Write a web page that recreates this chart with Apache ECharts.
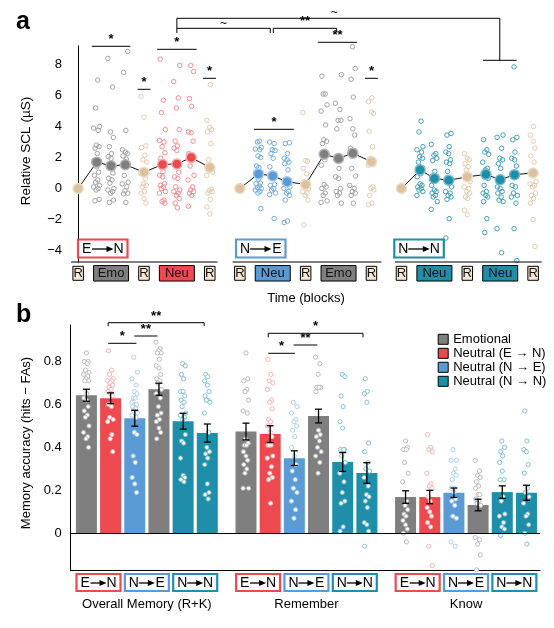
<!DOCTYPE html>
<html><head><meta charset="utf-8">
<script src="https://cdn.jsdelivr.net/npm/echarts@6/dist/echarts.min.js"></script>
<style>html,body{margin:0;padding:0;background:#fff}#c{width:554px;height:628px}</style>
</head><body><div id="c"></div>
<script>
// ===== Panel a : relative SCL per block (columns: R, block1 x3, R, block2 x3, R) =====
const sclTicks = [-4, -2, 0, 2, 4, 6, 8];
const sclEtoN = [
  [],
  [7.0, 5.2, 4.0, 3.9, 3.75, 2.8, 2.7, 2.6, 2.25, 1.8, 1.4, 1.05, 0.85, 0.55, 0.4, 0.2, 0.1, 0.0, -0.1, -0.7, -0.8],
  [8.4, 6.55, 3.65, 3.3, 2.7, 2.25, 2.05, 1.95, 1.0, 0.65, 0.55, 0.35, 0.0, -0.1, -0.2, -0.3, -0.75, -0.9],
  [8.85, 7.5, 3.75, 2.5, 2.35, 2.25, 2.1, 1.9, 0.85, 0.4, 0.3, 0.1, -0.15, -0.3, -0.35, -0.9],
  [5.95, 4.6, 2.75, 2.65, 2.15, 1.85, 1.7, 0.95, 0.65, 0.3, 0.2, 0.1, -0.2, -0.3, -0.65, -0.95],
  [8.35, 5.7, 4.9, 3.8, 3.1, 3.0, 2.7, 2.3, 1.95, 1.1, 0.85, 0.75, 0.3, 0.2, 0.1, 0.0, -0.2, -0.3, -0.75, -0.85, -0.95],
  [7.95, 6.9, 5.85, 5.2, 3.8, 3.05, 2.75, 2.6, 2.45, 1.05, 0.75, 0.65, 0.1, -0.1, -0.2, -0.3, -0.45, -0.65, -0.95, -1.25],
  [7.95, 7.55, 5.8, 5.3, 3.65, 3.6, 3.05, 2.25, 2.05, 1.45, 0.85, 0.55, 0.1, -0.1, -0.2, -0.3, -0.45, -1.15],
  [6.7, 4.4, 3.95, 3.8, 3.65, 2.9, 1.85, 1.05, 0.85, -0.05, -0.15, -0.2, -0.3, -0.7, -1.2, -1.65]
];
const meanEtoN = [0, 1.7, 1.46, 1.53, 1.05, 1.55, 1.58, 2.0, 1.35];

const sclNtoE = [
  [],
  [3.05, 3.0, 2.65, 2.55, 2.5, 2.1, 2.0, 1.45, 1.35, 1.0, 0.6, 0.35, 0.3, 0.15, 0.05, 0.0, -0.1, -0.2, -0.3, -1.3],
  [3.0, 2.9, 2.5, 2.45, 2.25, 1.95, 1.4, 1.0, 0.25, 0.2, 0.0, -0.1, -0.3, -0.4, -1.95],
  [2.95, 2.9, 2.25, 1.95, 1.85, 1.7, 1.6, 1.2, 0.35, 0.1, 0.0, -0.2, -0.3, -0.45, -0.75, -2.1, -2.2],
  [4.9, 1.8, 1.75, 1.3, 0.95, 0.4, 0.0, -0.2, -0.3, -0.45, -0.75, -2.35],
  [7.25, 6.1, 6.1, 5.4, 5.0, 4.1, 3.15, 3.05, 2.9, 1.85, 1.5, 0.25, 0.1, 0.0, -0.3, -0.45, -0.8, -0.9],
  [7.35, 5.5, 5.1, 4.4, 4.4, 3.85, 1.3, 0.75, 0.65, 0.0, -0.2, -0.3, -0.45, -0.95],
  [9.15, 7.75, 7.05, 5.9, 4.5, 3.85, 3.45, 2.6, 2.45, 1.3, 0.8, 0.2, 0.0, -0.2, -0.3, -0.45, -0.95],
  [5.85, 5.6, 4.95, 4.85, 3.7, 2.7, 1.95, 1.75, 1.5, 0.1, 0.0, -0.1, -0.45, -0.95, -1.05]
];
const meanNtoE = [0, 0.94, 0.81, 0.43, 0.26, 2.21, 1.94, 2.28, 1.72];

const sclNtoN = [
  [],
  [4.35, 3.65, 2.7, 2.5, 2.35, 2.05, 1.95, 1.7, 0.95, 0.75, 0.3, 0.2, 0.1, 0.0, -0.1, -0.2, -0.45],
  [2.85, 2.25, 2.15, 1.95, 1.8, 1.1, 0.2, -0.1, -0.2, -0.3, -0.45, -0.55, -0.85, -1.35],
  [3.55, 3.45, 2.7, 2.35, 2.25, 1.85, 1.7, 1.6, 1.1, 0.1, -0.2, -0.3, -0.45, -0.55, -0.7, -1.95, -3.2],
  [2.25, 1.95, 1.85, 1.6, 1.4, 1.2, 0.45, 0.1, 0.0, -0.2, -0.3, -0.55, -0.65, -1.4, -1.7],
  [3.15, 2.5, 2.35, 2.2, 1.7, 1.3, 1.2, 0.65, 0.2, -0.2, -0.3, -0.45, -0.55, -0.85, -1.95, -2.85],
  [3.45, 3.3, 2.6, 1.95, 1.85, 1.6, 1.3, 0.1, 0.0, -0.2, -0.3, -0.55, -0.75, -0.85, -2.6, -4.15],
  [7.85, 3.3, 3.15, 2.35, 1.95, 1.85, 1.45, 0.2, 0.1, -0.3, -0.45, -0.55, -0.95, -2.6, -4.65],
  [4.0, 3.45, 3.05, 2.6, 2.1, 1.7, 1.1, 0.45, 0.3, 0.2, 0.1, -0.3, -0.45, -0.65, -0.95, -2.0, -3.75]
];
const meanNtoN = [0, 1.2, 0.65, 0.53, 0.75, 0.91, 0.56, 0.89, 1.0];

// ===== Panel b : memory accuracy (bars: Emo, Neu E->N, Neu N->E, Emo, Neu N->N, Neu N->N) =====
const accTicks = [0, 0.2, 0.4, 0.6, 0.8];
const legendNames = ['Emotional', 'Neutral (E \u2192 N)', 'Neutral (N \u2192 E)', 'Neutral (N \u2192 N)'];
const groupNames = ['Overall Memory (R+K)', 'Remember', 'Know'];
const barOverall = [0.643, 0.629, 0.536, 0.671, 0.522, 0.467];
const semOverall = [0.028, 0.025, 0.037, 0.028, 0.037, 0.042];
const barRemember = [0.474, 0.462, 0.350, 0.546, 0.332, 0.281];
const semRemember = [0.039, 0.039, 0.034, 0.032, 0.044, 0.048];
const barKnow = [0.169, 0.169, 0.189, 0.132, 0.192, 0.189];
const semKnow = [0.029, 0.031, 0.022, 0.027, 0.029, 0.035];
const accOverall = [
  [0.84, 0.80, 0.80, 0.79, 0.76, 0.75, 0.74, 0.73, 0.72, 0.71, 0.71, 0.65, 0.63, 0.62, 0.59, 0.57, 0.55, 0.54, 0.50, 0.47, 0.45, 0.44, 0.40],
  [0.85, 0.76, 0.74, 0.72, 0.71, 0.71, 0.70, 0.69, 0.68, 0.67, 0.66, 0.65, 0.64, 0.60, 0.59, 0.54, 0.53, 0.52, 0.46, 0.44, 0.38],
  [0.82, 0.75, 0.72, 0.69, 0.66, 0.65, 0.63, 0.63, 0.61, 0.60, 0.60, 0.59, 0.58, 0.57, 0.56, 0.55, 0.54, 0.47, 0.46, 0.36, 0.33, 0.26, 0.23, 0.19],
  [0.89, 0.86, 0.85, 0.84, 0.84, 0.81, 0.78, 0.77, 0.74, 0.72, 0.71, 0.70, 0.67, 0.65, 0.63, 0.59, 0.56, 0.55, 0.53, 0.52, 0.49, 0.47, 0.44],
  [0.79, 0.78, 0.74, 0.72, 0.66, 0.66, 0.64, 0.62, 0.61, 0.59, 0.56, 0.55, 0.54, 0.53, 0.46, 0.43, 0.42, 0.35, 0.27, 0.26, 0.25, 0.24],
  [0.74, 0.73, 0.71, 0.69, 0.66, 0.64, 0.62, 0.62, 0.61, 0.56, 0.47, 0.40, 0.38, 0.37, 0.35, 0.32, 0.23, 0.19, 0.18, 0.16]
];
const accRemember = [
  [0.84, 0.72, 0.71, 0.67, 0.66, 0.62, 0.57, 0.56, 0.44, 0.42, 0.41, 0.41, 0.38, 0.36, 0.34, 0.32, 0.30, 0.28, 0.21, 0.21],
  [0.81, 0.74, 0.71, 0.70, 0.67, 0.62, 0.61, 0.58, 0.53, 0.52, 0.50, 0.47, 0.45, 0.41, 0.41, 0.41, 0.36, 0.35, 0.31, 0.28, 0.26, 0.25, 0.14],
  [0.61, 0.59, 0.56, 0.53, 0.52, 0.50, 0.48, 0.45, 0.40, 0.36, 0.32, 0.29, 0.25, 0.21, 0.19, 0.15, 0.11, 0.07],
  [0.82, 0.79, 0.74, 0.68, 0.68, 0.68, 0.66, 0.48, 0.46, 0.45, 0.43, 0.40, 0.38, 0.36, 0.33, 0.28],
  [0.74, 0.73, 0.64, 0.59, 0.52, 0.49, 0.39, 0.39, 0.39, 0.36, 0.33, 0.28, 0.24, 0.19, 0.15, 0.14, 0.03, 0.01],
  [0.72, 0.66, 0.65, 0.61, 0.42, 0.38, 0.33, 0.30, 0.29, 0.26, 0.22, 0.18, 0.17, 0.15, 0.12, 0.05, 0.04, 0.01, -0.06]
];
const accKnow = [
  [0.43, 0.40, 0.39, 0.39, 0.33, 0.28, 0.24, 0.15, 0.13, 0.11, 0.09, 0.08, 0.06, 0.04, 0.02, 0.0, -0.04],
  [0.46, 0.40, 0.39, 0.38, 0.28, 0.23, 0.22, 0.21, 0.17, 0.15, 0.12, 0.10, 0.08, 0.05, 0.03, -0.06, -0.15],
  [0.39, 0.34, 0.34, 0.30, 0.28, 0.27, 0.25, 0.21, 0.21, 0.19, 0.16, 0.15, 0.13, 0.08, 0.07, -0.04, -0.06],
  [0.34, 0.29, 0.27, 0.26, 0.24, 0.22, 0.21, 0.18, 0.18, 0.16, 0.15, 0.14, 0.13, -0.02, -0.03, -0.05, -0.10, -0.17],
  [0.43, 0.40, 0.38, 0.36, 0.33, 0.29, 0.25, 0.25, 0.17, 0.15, 0.09, 0.08, 0.05, 0.03, 0.02, -0.01],
  [0.57, 0.43, 0.39, 0.38, 0.32, 0.28, 0.21, 0.19, 0.17, 0.14, 0.09, 0.08, 0.04, 0.0, -0.05]
];

// ===== styling / layout =====
const FONT = '"Liberation Sans", Arial, Helvetica, sans-serif';
const COL = {
  emo:  {bar: '#7f7f7f', pt: '#a2a2a2', ring: '#b3b3b3'},
  red:  {bar: '#ec4a4e', pt: '#f28c91', ring: '#f6a9ac'},
  blue: {bar: '#5b9bd5', pt: '#72abdf', ring: '#a1c8eb'},
  teal: {bar: '#1f8ea8', pt: '#3f9fb7', ring: '#74bbcc'},
  R:    {bar: '#dcc2a0', pt: '#e2caad', ring: '#ecdcc6'}
};
const posA = [0, 1.3, 2.3, 3.3, 4.6, 5.9, 6.9, 7.9, 9.2];
const startA = [0, 11.3, 22.6];
const groupsA = [
  {data: sclEtoN, means: meanEtoN, cols: ['R','emo','emo','emo','R','red','red','red','R'],
   blocks: [['Emo','emo'], ['Neu','red']], cond: ['E','N','red'], condLeft: 78},
  {data: sclNtoE, means: meanNtoE, cols: ['R','blue','blue','blue','R','emo','emo','emo','R'],
   blocks: [['Neu','blue'], ['Emo','emo']], cond: ['N','E','blue'], condLeft: 236},
  {data: sclNtoN, means: meanNtoN, cols: ['R','teal','teal','teal','R','teal','teal','teal','R'],
   blocks: [['Neu','teal'], ['Neu','teal']], cond: ['N','N','teal'], condLeft: 394.3}
];
const barCols = ['emo','red','blue','emo','teal','teal'];
const startB = [0, 6.6, 13.2];
const groupsB = [
  {bars: barOverall, sem: semOverall, pts: accOverall},
  {bars: barRemember, sem: semRemember, pts: accRemember},
  {bars: barKnow, sem: semKnow, pts: accKnow}
];
const JIT = [0, 0.6, -0.75, 0.3, -0.35, 0.9, -1, 0.45, -0.15, 0.75, -0.55, 0.15, -0.9];
const jit = (i, amp) => JIT[i % JIT.length] * amp;
const minus = v => String(v).replace('-', '\u2212');

// ---- build panel a series ----
const ptsA = [], meansA = [], lineSeriesA = [];
groupsA.forEach((g, gi) => {
  const lineData = [];
  g.data.forEach((col, ci) => {
    const x = startA[gi] + posA[ci];
    const c = COL[g.cols[ci]];
    col.forEach((v, i) => ptsA.push({value: [x + jit(i + ci * 3, 0.22), v], itemStyle: {borderColor: c.pt}}));
    meansA.push({value: [x, g.means[ci]], itemStyle: {color: c.bar, borderColor: c.ring}});
    lineData.push([x, g.means[ci]]);
  });
  lineSeriesA.push({type: 'line', xAxisIndex: 0, yAxisIndex: 0, data: lineData, symbol: 'none', z: 3,
    lineStyle: {color: '#111', width: 1}, silent: true});
});
const segA = [[-0.5, 9.75], [10.8, 21.2], [22.15, 32.4]];
const segSeries = segA.map(s => ({type: 'line', xAxisIndex: 0, yAxisIndex: 0, symbol: 'none', clip: false, silent: true,
  data: [[s[0], -4.75], [s[1], -4.75]], lineStyle: {color: '#000', width: 1}}));

// ---- build panel b series ----
const barData = [], ptsB = [], errB = [];
groupsB.forEach((g, gi) => {
  g.bars.forEach((v, bi) => {
    const x = startB[gi] + bi;
    const c = COL[barCols[bi]];
    barData.push({value: [x, v], itemStyle: {color: c.bar}});
    errB.push([x, v, g.sem[bi]]);
    g.pts[bi].forEach((p, i) => ptsB.push({value: [x + jit(i + bi * 2, 0.12), p], itemStyle: {borderColor: c.ring}}));
  });
});
const legendCols = [COL.emo.bar, COL.red.bar, COL.blue.bar, COL.teal.bar];

const chart = echarts.init(document.getElementById('c'));
const option = {
  animation: false,
  textStyle: {fontFamily: FONT, color: '#000'},
  grid: [
    {left: 71, top: 46, width: 470.7, height: 216},
    {left: 70.7, top: 325, width: 469.3, height: 245.7}
  ],
  xAxis: [
    {type: 'value', gridIndex: 0, min: -0.5, max: 32.4, show: false},
    {type: 'value', gridIndex: 1, min: -0.65, max: 18.76, axisLine: {show: true, onZero: false, lineStyle: {color: '#000', width: 1}},
     axisTick: {show: false}, axisLabel: {show: false}, splitLine: {show: false}}
  ],
  yAxis: [
    {type: 'value', gridIndex: 0, min: -4.75, max: 9.2,
     axisLine: {show: true, lineStyle: {color: '#000', width: 1}}, axisTick: {show: false}, splitLine: {show: false},
     axisLabel: {customValues: sclTicks, formatter: v => minus(v), fontSize: 13, color: '#000', margin: 9, fontFamily: FONT}},
    {type: 'value', gridIndex: 1, min: -0.174, max: 0.97,
     axisLine: {show: true, onZero: false, lineStyle: {color: '#000', width: 1}}, axisTick: {show: false}, splitLine: {show: false},
     axisLabel: {customValues: accTicks, formatter: v => (v === 0 ? '0' : v.toFixed(1)), fontSize: 13, color: '#000', margin: 9, fontFamily: FONT}}
  ],
  legend: {
    data: legendNames.map(n => ({name: n, icon: 'rect'})),
    orient: 'vertical', left: 437.7, top: 332.3, padding: 0, itemWidth: 10, itemHeight: 10, itemGap: 0,
    itemStyle: {borderColor: '#000', borderWidth: 1, opacity: 1},
    textStyle: {fontSize: 13, color: '#000', lineHeight: 14, fontFamily: FONT},
    selectedMode: false
  },
  series: [
    ...segSeries,
    {type: 'scatter', xAxisIndex: 0, yAxisIndex: 0, data: ptsA, symbol: 'circle', symbolSize: 4.5, z: 2, silent: true,
     itemStyle: {color: 'rgba(255,255,255,0)', borderWidth: 1, opacity: 1}},
    ...lineSeriesA,
    {type: 'scatter', xAxisIndex: 0, yAxisIndex: 0, data: meansA, symbol: 'circle', symbolSize: 10, z: 4, silent: true,
     itemStyle: {borderWidth: 1.5, opacity: 1}},
    {type: 'bar', xAxisIndex: 1, yAxisIndex: 1, data: barData, barWidth: 21, z: 2, silent: true,
     markLine: {silent: true, symbol: 'none', label: {show: false}, lineStyle: {color: '#000', width: 1, type: 'solid'},
       data: [{yAxis: 0}]}},
    {type: 'scatter', xAxisIndex: 1, yAxisIndex: 1, data: ptsB, symbol: 'circle', symbolSize: 4.2, z: 3, silent: true,
     itemStyle: {color: '#ffffff', borderWidth: 0.9, opacity: 1}},
    {type: 'custom', xAxisIndex: 1, yAxisIndex: 1, data: errB, z: 5, silent: true, encode: {x: 0, y: 1},
     renderItem: (p, api) => {
       const x = api.value(0), m = api.value(1), s = api.value(2);
       const t = api.coord([x, m + s]), b = api.coord([x, m - s]);
       const st = {stroke: '#000', lineWidth: 1.3};
       return {type: 'group', children: [
         {type: 'line', shape: {x1: t[0], y1: t[1], x2: b[0], y2: b[1]}, style: st},
         {type: 'line', shape: {x1: t[0] - 3.5, y1: t[1], x2: t[0] + 3.5, y2: t[1]}, style: st},
         {type: 'line', shape: {x1: b[0] - 3.5, y1: b[1], x2: b[0] + 3.5, y2: b[1]}, style: st}
       ]};
     }},
    ...legendNames.map((n, i) => ({type: 'scatter', name: n, xAxisIndex: 1, yAxisIndex: 1, data: [],
      itemStyle: {color: legendCols[i], opacity: 1}}))
  ]
};
chart.setOption(option);

// ===== annotations (positions follow the axes) =====
const XA = u => chart.convertToPixel({xAxisIndex: 0}, u);
const XB = u => chart.convertToPixel({xAxisIndex: 1}, u);
const G = [];
const L = (x1, y1, x2, y2, w) => G.push({type: 'line', shape: {x1, y1, x2, y2}, style: {stroke: '#000', lineWidth: w || 1}, z: 10});
const T = (x, y, s, o, rot) => G.push({type: 'text', x, y, z: 10, rotation: rot || 0, style: Object.assign({text: s, fill: '#000', font: '13px ' + FONT, align: 'center', verticalAlign: 'middle'}, o || {})});
const star = (x, y, s) => T(x, y + 1, s, {font: 'bold 13px ' + FONT, verticalAlign: 'bottom'});

// panel letters and axis titles
T(16, 22, 'a', {font: 'bold 25px ' + FONT, align: 'left'});
T(16, 315, 'b', {font: 'bold 25px ' + FONT, align: 'left'});
T(26, 151, 'Relative SCL (\u00b5S)', {font: '13.5px ' + FONT}, Math.PI / 2);
T(26, 443, 'Memory accuracy (hits \u2212 FAs)', {font: '13px ' + FONT}, Math.PI / 2);

// condition box with arrow
function condBox(left, top, w, h, color, a, b, fs) {
  G.push({type: 'rect', shape: {x: left, y: top, width: w, height: h}, style: {fill: '#fff', stroke: color, lineWidth: 2.2}, z: 10});
  const cy = top + h / 2 + 0.5;
  T(left + 4, cy, a, {align: 'left', font: fs + 'px ' + FONT});
  T(left + w - 4, cy, b, {align: 'right', font: fs + 'px ' + FONT});
  const x1 = left + 14, x2 = left + w - 14;
  L(x1, cy, x2 - 5, cy, 1.3);
  G.push({type: 'polygon', shape: {points: [[x2, cy], [x2 - 7, cy - 3], [x2 - 7, cy + 3]]}, style: {fill: '#000'}, z: 10});
}
function labelBox(cx, cy, w, h, fill, s) {
  G.push({type: 'rect', shape: {x: cx - w / 2, y: cy - h / 2, width: w, height: h}, style: {fill, stroke: '#000', lineWidth: 1}, z: 10});
  T(cx, cy + 0.5, s, {font: '13px ' + FONT, fill: '#111'});
}

// panel a: bottom block labels and condition boxes
groupsA.forEach((g, gi) => {
  const s = startA[gi];
  [0, 4, 8].forEach(ci => labelBox(XA(s + posA[ci]), 273.3, 10.5, 14, '#f8e8d2', 'R'));
  g.blocks.forEach((bk, k) => {
    const cx = XA(s + posA[2 + k * 4]);
    labelBox(cx, 273.3, 35, 15.5, COL[bk[1]].bar, bk[0]);
  });
  condBox(g.condLeft, 239.5, 49.5, 18, COL[g.cond[2]].bar, g.cond[0], g.cond[1], 14);
});
T(306, 298, 'Time (blocks)', {font: '13px ' + FONT});

// panel a significance brackets (x in block units, y in px)
const bracketsA = [[0.95, 3.65, 46.3, '*'], [4.15, 5.05, 89.3, '*'], [5.52, 8.28, 49.3, '*'], [8.72, 9.63, 78.3, '*'],
  [12.29, 15.08, 129.3, '*'], [16.75, 19.5, 42.3, '**'], [20.05, 20.95, 78.3, '*'], [28.3, 30.65, 60.3, '']];
bracketsA.forEach(b => {
  const x1 = XA(b[0]), x2 = XA(b[1]);
  L(x1, b[2], x2, b[2]);
  if (b[3]) star((x1 + x2) / 2, b[2] - 1, b[3]);
});
// connectors
const cL = XA(6.9), cN = XA(29.47), cM1 = XA(13.43), cM2 = XA(13.64), cE = XA(18.07);
L(cL, 18.3, cN, 18.3); L(cL, 18.3, cL, 33); L(cN, 18.3, cN, 60.3);
T((cL + cN) / 2 - 4, 13, '~', {font: '12px ' + FONT});
L(cL, 28.3, cM1, 28.3); L(cM1, 28.3, cM1, 33);
T((cL + cM1) / 2, 23.5, '~', {font: '12px ' + FONT});
L(cM2, 28.3, cE, 28.3); L(cM2, 28.3, cM2, 33); L(cE, 28.3, cE, 32);
star((cM2 + cE) / 2, 27.3, '**');

// panel b: condition boxes and group names
const condB = [['E', 'N', 'red'], ['N', 'E', 'blue'], ['N', 'N', 'teal']];
groupsB.forEach((g, gi) => {
  condB.forEach((cb, k) => {
    const cx = XB(startB[gi] + 0.5 + 2 * k);
    condBox(cx - 22, 574, 44, 17, COL[cb[2]].bar, cb[0], cb[1], 14);
  });
  T(XB(startB[gi] + 2.5), 604, groupNames[gi], {font: '13px ' + FONT});
});
// panel b brackets: [x1, x2, y, label, tick]
const bracketsB = [[0.9, 2.07, 343.3, '*', 0], [1.98, 2.94, 336, '**', 0], [0.9, 4.87, 322.7, '**', 3.5],
  [7.52, 8.62, 353.3, '*', 0], [8.57, 9.55, 345, '**', 0], [7.52, 11.44, 333.3, '*', 4]];
bracketsB.forEach(b => {
  const x1 = XB(b[0]), x2 = XB(b[1]);
  L(x1, b[2], x2, b[2]);
  if (b[4]) { L(x1, b[2], x1, b[2] + b[4]); L(x2, b[2], x2, b[2] + b[4]); }
  star((x1 + x2) / 2, b[2] - 1, b[3]);
});

chart.setOption({graphic: G});
</script>
</body></html>
